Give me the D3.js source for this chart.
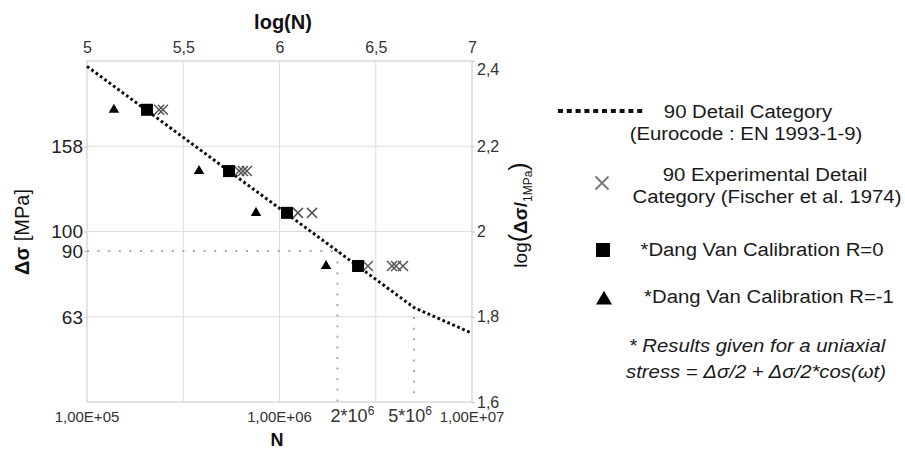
<!DOCTYPE html>
<html><head><meta charset="utf-8">
<script src="https://cdn.jsdelivr.net/npm/d3@7"></script>
<style>
html,body{margin:0;padding:0;background:#fff;}
svg{display:block;font-family:"Liberation Sans",Arial,sans-serif;}
</style></head>
<body>
<svg id="chart" width="905" height="451"></svg>
<script>
// ---- data ----
const curveN = [1e5, 5e6, 1e7];
const curveS = [244, 66.3, 57.7];
const squareN = [2.05e5, 5.47e5, 1.094e6, 2.56e6];
const squareS = [193, 138.6, 110.6, 83];
const triangleN = [1.38e5, 3.82e5, 7.55e5, 1.745e6];
const triangleS = [193, 138.6, 110.6, 83];
const crossN = [2.37e5, 2.48e5, 6.17e5, 6.46e5, 6.77e5, 1.247e6, 1.475e6, 2.88e6, 3.84e6, 4.03e6, 4.38e6];
const crossS = [193, 193, 138.6, 138.6, 138.6, 110.6, 110.6, 83, 83, 83, 83];
const refLines = [
  {N: [1e5, 2e6], S: [90, 90]},
  {N: [2e6, 2e6], S: [90, 39.8]},
  {N: [5e6, 5e6], S: [63, 39.8]}
];
const topTicks = [5, 5.5, 6, 6.5, 7];
const rightTicks = [1.6, 1.8, 2, 2.2, 2.4];
const leftTicks = [63, 90, 100, 158];
const bottomLabels = [
  {N: 1e5, text: "1,00E+05", big: false},
  {N: 1e6, text: "1,00E+06", big: false},
  {N: 2e6, text: "2*10", sup: "6", big: true},
  {N: 5e6, text: "5*10", sup: "6", big: true},
  {N: 1e7, text: "1,00E+07", big: false}
];
const legendLine1 = ["90 Detail Category", "(Eurocode : EN 1993-1-9)"];
const legendCross = ["90 Experimental Detail", "Category (Fischer et al. 1974)"];
const legendSquare = "*Dang Van Calibration R=0";
const legendTriangle = "*Dang Van Calibration R=-1";
const footnote = ["* Results given for a uniaxial", "stress = \u0394\u03c3/2 + \u0394\u03c3/2*cos(\u03c9t)"];

// ---- layout ----
const L = 87, R = 472, T = 61, B = 402;
const svg = d3.select("#chart");
const x = d3.scaleLog().domain([1e5, 1e7]).range([L, R]);
const xTop = d3.scaleLinear().domain([5, 7]).range([L, R]);
const y = d3.scaleLog().domain([Math.pow(10, 1.6), Math.pow(10, 2.4)]).range([B, T]);
const yR = d3.scaleLinear().domain([1.6, 2.4]).range([B, T]);
const fmtComma = d => String(d).replace(".", ",");

// gridlines
const grid = svg.append("g").attr("stroke", "#dcdcdc").attr("stroke-width", 1);
grid.selectAll("line.v").data(topTicks.slice(1, -1)).join("line")
  .attr("x1", d => xTop(d)).attr("x2", d => xTop(d)).attr("y1", T).attr("y2", B);
grid.selectAll("line.h").data(rightTicks.slice(1, -1)).join("line")
  .attr("x1", L).attr("x2", R).attr("y1", d => yR(d)).attr("y2", d => yR(d));
svg.append("rect").attr("x", L).attr("y", T).attr("width", R - L).attr("height", B - T)
  .attr("fill", "none").attr("stroke", "#d0d0d0").attr("stroke-width", 1.2);

// top axis
const gTop = svg.append("g").attr("transform", `translate(0,${T})`)
  .call(d3.axisTop(xTop).tickValues(topTicks).tickFormat(fmtComma).tickSize(0).tickPadding(8));
gTop.select(".domain").remove();
gTop.selectAll("text").attr("font-size", 16).attr("fill", "#333").attr("font-family", "Liberation Sans, Arial, sans-serif");

// right axis
const gRight = svg.append("g").attr("transform", `translate(${R},0)`)
  .call(d3.axisRight(yR).tickValues(rightTicks).tickFormat(fmtComma).tickSize(3).tickPadding(2));
gRight.select(".domain").remove();
gRight.selectAll("line").attr("stroke", "#c8c8c8");
gRight.selectAll("text").attr("font-size", 16).attr("fill", "#333").attr("font-family", "Liberation Sans, Arial, sans-serif")
  .attr("dy", d => d === 2.4 ? "0.85em" : "0.32em");

// left axis
const gLeft = svg.append("g").attr("transform", `translate(${L},0)`)
  .call(d3.axisLeft(y).tickValues(leftTicks).tickFormat(d => d).tickSize(3).tickPadding(1));
gLeft.select(".domain").remove();
gLeft.selectAll("line").attr("stroke", "#c8c8c8");
gLeft.selectAll("text").attr("font-size", 19).attr("fill", "#222").attr("font-family", "Liberation Sans, Arial, sans-serif");

// bottom labels
const bl = svg.append("g").attr("fill", "#333");
bottomLabels.forEach(d => {
  const t = bl.append("text").attr("y", 422)
    .attr("font-size", d.big ? 18 : 15);
  if (d.big) {
    t.attr("x", x(d.N) + (d.N === 2e6 ? 15 : -4)).attr("text-anchor", "middle");
    t.append("tspan").text(d.text);
    t.append("tspan").attr("font-size", 12).attr("dy", -7).text(d.sup);
  } else {
    t.attr("x", x(d.N)).attr("text-anchor", "middle").text(d.text);
  }
});

// reference gray dotted lines
const line = d3.line().x(d => x(d[0])).y(d => y(d[1]));
svg.append("g").selectAll("path").data(refLines).join("path")
  .attr("d", d => line(d.N.map((n, i) => [n, d.S[i]])))
  .attr("fill", "none").attr("stroke", "#a8a8a8").attr("stroke-width", 2)
  .attr("stroke-dasharray", "2,8.6");

// Eurocode curve
svg.append("path").attr("d", line(curveN.map((n, i) => [n, curveS[i]])))
  .attr("fill", "none").attr("stroke", "#111").attr("stroke-width", 3)
  .attr("stroke-dasharray", "2.8,2.6");

// markers
const crossPath = s => `M${-s},${-s}L${s},${s}M${-s},${s}L${s},${-s}`;
svg.append("g").selectAll("path").data(crossN.map((n, i) => [n, crossS[i]])).join("path")
  .attr("transform", d => `translate(${x(d[0])},${y(d[1])})`)
  .attr("d", crossPath(5)).attr("stroke", "#555").attr("stroke-width", 1.5).attr("fill", "none");
svg.append("g").selectAll("rect").data(squareN.map((n, i) => [n, squareS[i]])).join("rect")
  .attr("x", d => x(d[0]) - 6).attr("y", d => y(d[1]) - 6).attr("width", 12).attr("height", 12).attr("fill", "#000");
const tri = d3.symbol(d3.symbolTriangle, 48);
svg.append("g").selectAll("path").data(triangleN.map((n, i) => [n, triangleS[i]])).join("path")
  .attr("transform", d => `translate(${x(d[0])},${y(d[1])})`).attr("d", tri).attr("fill", "#000");

// axis titles
svg.append("text").attr("x", 283).attr("y", 29).attr("text-anchor", "middle")
  .attr("font-size", 20).attr("font-weight", "bold").attr("fill", "#111").text("log(N)");
svg.append("text").attr("x", 277).attr("y", 446).attr("text-anchor", "middle")
  .attr("font-size", 18).attr("font-weight", "bold").attr("fill", "#111").text("N");
const lt = svg.append("text").attr("transform", "translate(29,232) rotate(-90)")
  .attr("text-anchor", "middle").attr("font-size", 20).attr("fill", "#111");
lt.append("tspan").attr("font-weight", "bold").text("\u0394\u03c3");
lt.append("tspan").text(" [MPa]");
const rt = svg.append("text").attr("transform", "translate(527,215) rotate(-90)")
  .attr("text-anchor", "middle").attr("font-size", 19).attr("fill", "#111");
rt.append("tspan").text("log");
rt.append("tspan").attr("font-size", 25).text("(");
rt.append("tspan").attr("font-weight", "bold").text("\u0394\u03c3/");
rt.append("tspan").attr("font-size", 12).attr("dy", 5).text("1MPa");
rt.append("tspan").attr("font-size", 25).attr("dy", -5).text(")");

// legend
const lg = svg.append("g").attr("fill", "#1a1a1a");
function ltext(cx, cy, txt, italic) {
  lg.append("text").attr("transform", `translate(${cx},${cy}) scale(1.13,1)`)
    .attr("text-anchor", "middle").attr("dy", "0.35em").attr("font-size", 18)
    .attr("font-style", italic ? "italic" : "normal").text(txt);
}
lg.append("line").attr("x1", 558).attr("x2", 646).attr("y1", 111).attr("y2", 111)
  .attr("stroke", "#111").attr("stroke-width", 4).attr("stroke-dasharray", "5,3.8");
ltext(748, 112, legendLine1[0]);
ltext(746, 134, legendLine1[1]);
lg.append("path").attr("transform", "translate(602,183)").attr("d", crossPath(6.5))
  .attr("stroke", "#777").attr("stroke-width", 1.8).attr("fill", "none");
ltext(765, 175, legendCross[0]);
ltext(767, 197, legendCross[1]);
lg.append("rect").attr("x", 596).attr("y", 243).attr("width", 14).attr("height", 14).attr("fill", "#000");
ltext(762, 250, legendSquare);
lg.append("path").attr("transform", "translate(604,300)").attr("d", d3.symbol(d3.symbolTriangle, 110)).attr("fill", "#000");
ltext(769, 297, legendTriangle);
ltext(757, 346, footnote[0], true);
ltext(756, 372, footnote[1], true);
</script>
</body></html>
